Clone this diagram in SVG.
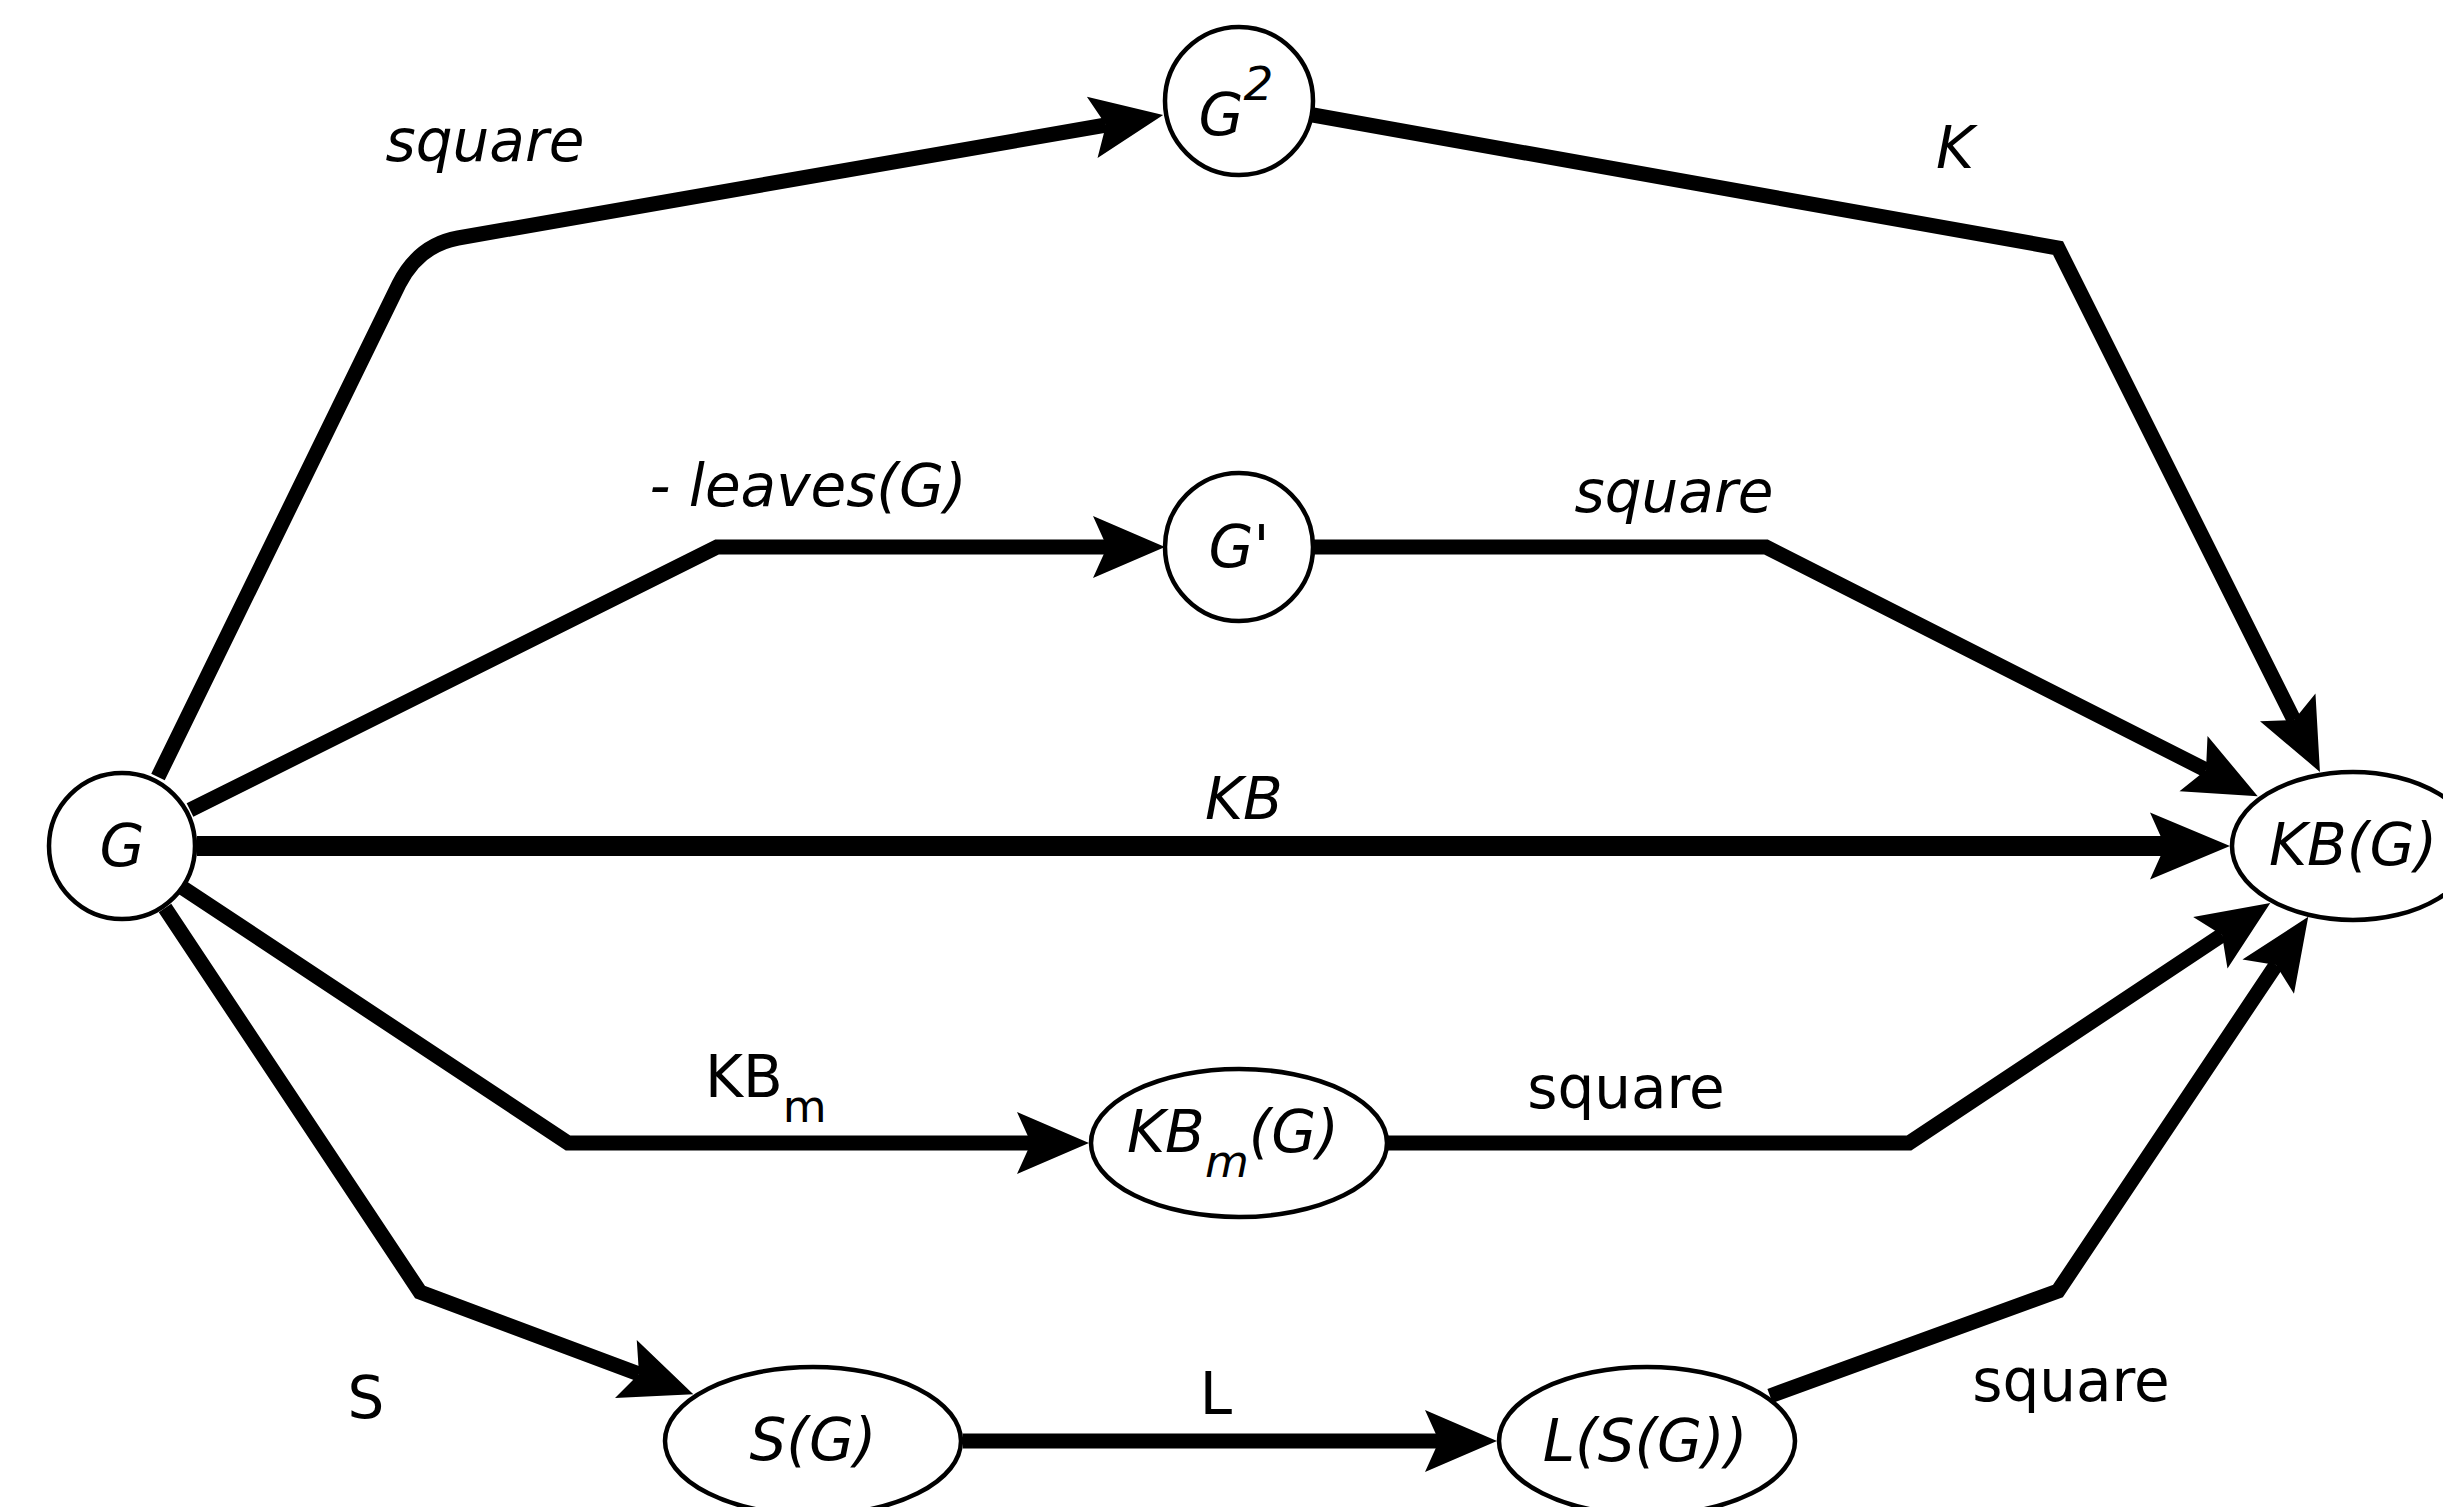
<svg xmlns="http://www.w3.org/2000/svg" width="2443" height="1507" viewBox="0 0 2443 1507">
  <style>
    .edge { fill: none; stroke: #000; stroke-width: 15; stroke-linejoin: miter; stroke-miterlimit: 10; marker-end: url(#arrow); }
    .edge.main { stroke-width: 20; marker-end: url(#arrowBig); }
    .node { fill: #fff; stroke: #000; stroke-width: 4.5; }
    text { font-family: "DejaVu Sans", "Liberation Sans", sans-serif; font-size: 58px; fill: #000; }
    .it { font-style: italic; }
    .c { text-anchor: middle; }
  </style>
  <defs>
    <marker id="arrow" markerUnits="userSpaceOnUse" orient="auto" refX="0" refY="0"
            viewBox="-16 -33 78 66" markerWidth="78" markerHeight="66" overflow="visible">
      <path d="M58,0 L-14,-31 L0,0 L-14,31 Z" fill="#000"/>
    </marker>
    <marker id="arrowBig" markerUnits="userSpaceOnUse" orient="auto" refX="0" refY="0"
            viewBox="-17 -35 84 70" markerWidth="84" markerHeight="70" overflow="visible">
      <path d="M65,0 L-15,-33.5 L0,0 L-15,33.5 Z" fill="#000"/>
    </marker>
  </defs>
  <rect width="2443" height="1507" fill="#fff"/>

  <g id="connectors">
    <path id="e-G-G2" class="edge" d="M158,777 L399,284 Q419,245 458,238 L1106,125"/>
    <path id="e-G2-KB" class="edge" d="M1313,115 L2058,248 L2294,720"/>
    <path id="e-G-Gp" class="edge" d="M190,810 L717,547 L1107,547"/>
    <path id="e-Gp-KB" class="edge" d="M1313,547 L1766,547 L2206,770"/>
    <path id="e-G-KB" class="edge main" d="M197,846 L2165,846"/>
    <path id="e-G-KBm" class="edge" d="M183,888 L568,1143 L1031,1143"/>
    <path id="e-KBm-KB" class="edge" d="M1387,1143 L1909,1143 L2222,935"/>
    <path id="e-G-S" class="edge" d="M165,908 L420,1292 L639,1374"/>
    <path id="e-S-L" class="edge" d="M963,1441 L1439,1441"/>
    <path id="e-L-KB" class="edge" d="M1770,1396 L2058,1291 L2276,965"/>

    <text class="it c" x="485" y="161">square</text>
    <text class="it c" x="1955" y="168">K</text>
    <text class="it c" x="808" y="506">- leaves(G)</text>
    <text class="it c" x="1674" y="512">square</text>
    <text class="it c" x="1244" y="819">KB</text>
    <text x="705" y="1097">KB<tspan font-size="45" dy="25">m</tspan></text>
    <text class="c" x="1626" y="1108">square</text>
    <text class="c" x="366" y="1418">S</text>
    <text class="c" x="1216" y="1414">L</text>
    <text class="c" x="2071" y="1401">square</text>
  </g>

  <g id="node-G">
    <circle class="node" cx="122" cy="846" r="73"/>
    <text class="it c" x="122" y="866">G</text>
  </g>
  <g id="node-G2">
    <circle class="node" cx="1239" cy="101" r="74"/>
    <text class="it c" x="1236" y="135">G<tspan font-size="47" dy="-35">2</tspan></text>
  </g>
  <g id="node-Gprime">
    <circle class="node" cx="1239" cy="547" r="74"/>
    <text class="it c" x="1239" y="567">G'</text>
  </g>
  <g id="node-KBG">
    <ellipse class="node" cx="2353" cy="846" rx="121" ry="74"/>
    <text class="it c" x="2353" y="865">KB(G)</text>
  </g>
  <g id="node-KBmG">
    <ellipse class="node" cx="1239" cy="1143" rx="148" ry="74"/>
    <text class="it c" x="1233" y="1152">KB<tspan font-size="45" dy="25">m</tspan><tspan dy="-25">(G)</tspan></text>
  </g>
  <g id="node-SG">
    <ellipse class="node" cx="813" cy="1441" rx="148" ry="74"/>
    <text class="it c" x="813" y="1460">S(G)</text>
  </g>
  <g id="node-LSG">
    <ellipse class="node" cx="1647" cy="1441" rx="148" ry="74"/>
    <text class="it c" x="1645" y="1461">L(S(G))</text>
  </g>
</svg>
